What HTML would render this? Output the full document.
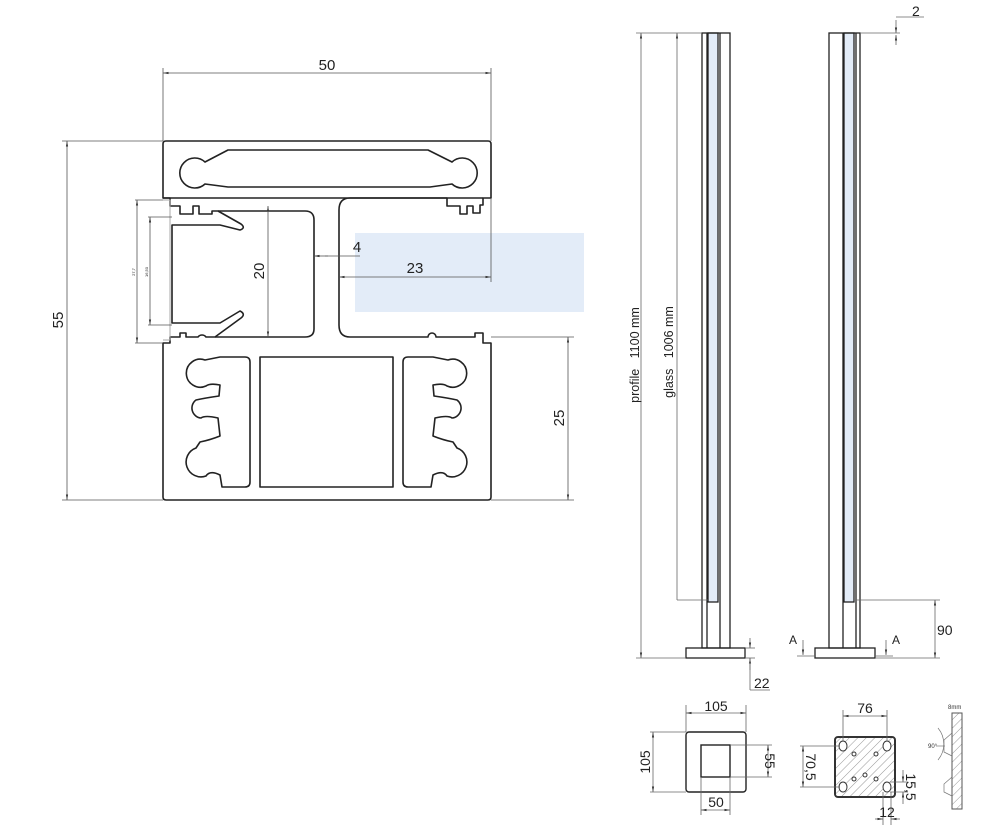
<!DOCTYPE html>
<html><head><meta charset="utf-8"><style>
html,body{margin:0;padding:0;background:#fff;}
svg{display:block;font-family:"Liberation Sans",sans-serif;}
</style></head><body>
<svg width="986" height="835" viewBox="0 0 986 835" xmlns="http://www.w3.org/2000/svg">
<defs>
<marker id="a" viewBox="0 0 10 10" refX="10" refY="5" markerWidth="7" markerHeight="7" orient="auto-start-reverse"><path d="M0,3 L10,5 L0,7 z" fill="#333"/></marker>
<pattern id="h" width="6" height="6" patternUnits="userSpaceOnUse" patternTransform="rotate(45)"><line x1="0" y1="0" x2="0" y2="6" stroke="#999" stroke-width="1"/></pattern>
</defs>
<rect width="986" height="835" fill="#fff"/>
<rect x="355" y="233" width="229" height="79" fill="#e3ecf8"/>

<g fill="none" stroke="#222" stroke-width="1.6" stroke-linejoin="round">
<path d="M166,141 H488 Q491,141 491,144 V198 H483 V205 H480 V213 H473 V206 H467 V214 H460 V206 H447 V198 H350 Q339,198 339,210 V325 Q339,337 350,337 H428 A4,4 0 0 1 436,337 H475 V333 H483 V343 H491 V497 Q491,500 488,500 H166 Q163,500 163,497 V343 H170 V337 H180 V333 H186 V337 H198 A5,5 0 0 1 206,337 H215 L241,318 Q246,314 240,311 L220,323 H172 V225 H220 L240,230 Q246,228 241,224 L218,211 H212 V214 H199 V206 H193 V214 H180 V206 H170 V198 H163 V144 Q163,141 166,141 Z"/>
<path d="M218,211 H305 Q314,211 314,220 V329 Q314,337 305,337 H215"/>
<line x1="163" y1="198" x2="483" y2="198"/>
<path d="M205,162 L228,150 H428 L452,162 A15,15 0 1 1 452,184 L430,187 H228 L205,184 A15,15 0 1 1 205,162 Z"/>
<rect x="260" y="357" width="133" height="130"/>
<path d="M220,357 H245 Q250,357 250,362 V482 Q250,487 245,487 H222 L220,475 Q210,470 206,476 A14,14 0 1 1 196,448 L200,442 Q210,440 220,436 L218,418 Q205,415 201,418 A10,10 0 0 1 196,400 Q205,398 219,396 L220,385 Q210,383 206,386 A14,14 0 1 1 205,360 Z"/>
<path d="M433,357 H408 Q403,357 403,362 V482 Q403,487 408,487 H431 L433,475 Q443,470 447,476 A14,14 0 1 0 457,448 L453,442 Q443,440 433,436 L435,418 Q448,415 452,418 A10,10 0 0 0 457,400 Q448,398 434,396 L433,385 Q443,383 447,386 A14,14 0 1 0 448,360 Z"/>
</g>
<path d="M163,200 H170 V340 H163" fill="none" stroke="#aaa" stroke-width="1"/>

<g stroke="#555" stroke-width="0.8" fill="none">
<line x1="163" y1="68" x2="163" y2="141"/><line x1="491" y1="68" x2="491" y2="141"/>
<line x1="163" y1="73" x2="491" y2="73" marker-start="url(#a)" marker-end="url(#a)"/>
<line x1="62" y1="141" x2="163" y2="141"/><line x1="62" y1="500" x2="163" y2="500"/>
<line x1="67" y1="141" x2="67" y2="500" marker-start="url(#a)" marker-end="url(#a)"/>
<line x1="491" y1="337" x2="574" y2="337"/><line x1="491" y1="500" x2="574" y2="500"/>
<line x1="568" y1="337" x2="568" y2="500" marker-start="url(#a)" marker-end="url(#a)"/>
<line x1="268" y1="206" x2="268" y2="337" marker-start="url(#a)" marker-end="url(#a)"/>
<line x1="314" y1="256" x2="328" y2="256" marker-start="url(#a)"/>
<line x1="325" y1="256" x2="360" y2="256"/>
<line x1="339" y1="277" x2="491" y2="277" marker-start="url(#a)" marker-end="url(#a)"/>
<line x1="491" y1="198" x2="491" y2="282"/>
<line x1="137" y1="200" x2="137" y2="343" marker-start="url(#a)" marker-end="url(#a)"/>
<line x1="150" y1="217" x2="150" y2="325" marker-start="url(#a)" marker-end="url(#a)"/>
<line x1="135" y1="200" x2="163" y2="200"/><line x1="135" y1="343" x2="163" y2="343"/>
<line x1="148" y1="217" x2="172" y2="217"/><line x1="148" y1="325" x2="172" y2="325"/>
</g>
<g fill="#222" font-size="15">
<text x="327" y="70" text-anchor="middle">50</text>
<text x="415" y="273" text-anchor="middle">23</text>
<text x="357" y="252" text-anchor="middle">4</text>
<text transform="translate(63,320) rotate(-90)" text-anchor="middle">55</text>
<text transform="translate(564,418) rotate(-90)" text-anchor="middle">25</text>
<text transform="translate(264,271) rotate(-90)" text-anchor="middle">20</text>
<text transform="translate(135,272) rotate(-90)" text-anchor="middle" font-size="4">27,7</text>
<text transform="translate(148,272) rotate(-90)" text-anchor="middle" font-size="4">16,50</text>
</g>

<rect x="708" y="33" width="10" height="569" fill="#e3ecf8"/>
<rect x="844" y="33" width="10" height="569" fill="#e3ecf8"/>
<g fill="none" stroke="#222" stroke-width="1.3">
<rect x="702" y="33" width="28" height="615"/>
<line x1="707" y1="33" x2="707" y2="648"/><line x1="720" y1="33" x2="720" y2="648"/>
<rect x="708" y="33" width="10" height="569"/>
<rect x="686" y="648" width="59" height="10"/>
<rect x="829" y="33" width="31" height="615"/>
<line x1="843" y1="33" x2="843" y2="648"/><line x1="856" y1="33" x2="856" y2="648"/>
<rect x="844" y="33" width="10" height="569"/>
<rect x="815" y="648" width="60" height="10"/>
</g>
<g stroke="#666" stroke-width="0.8" fill="none">
<line x1="636" y1="33" x2="702" y2="33"/>
<line x1="641" y1="33" x2="641" y2="658" marker-start="url(#a)" marker-end="url(#a)"/>
<line x1="636" y1="658" x2="686" y2="658"/>
<line x1="677" y1="33" x2="677" y2="600" marker-start="url(#a)"/>
<line x1="677" y1="600" x2="708" y2="600"/>
<line x1="856" y1="600" x2="940" y2="600"/><line x1="875" y1="658" x2="940" y2="658"/>
<line x1="935" y1="600" x2="935" y2="658" marker-start="url(#a)" marker-end="url(#a)"/>
<line x1="860" y1="33" x2="900" y2="33"/>
<line x1="896" y1="20" x2="896" y2="33" marker-end="url(#a)"/>
<line x1="896" y1="45" x2="896" y2="35" marker-end="url(#a)"/>
<line x1="896" y1="17" x2="924" y2="17"/>
<line x1="750" y1="638" x2="750" y2="648" marker-end="url(#a)"/>
<line x1="750" y1="670" x2="750" y2="658" marker-end="url(#a)"/>
<line x1="745" y1="648" x2="755" y2="648"/><line x1="745" y1="658" x2="755" y2="658"/>
<line x1="750" y1="658" x2="750" y2="690"/><line x1="750" y1="690" x2="770" y2="690"/>
<line x1="803" y1="640" x2="803" y2="655" marker-end="url(#a)"/>
<line x1="797" y1="656" x2="815" y2="656"/>
<line x1="886" y1="640" x2="886" y2="655" marker-end="url(#a)"/>
<line x1="875" y1="656" x2="893" y2="656"/>
</g>
<g fill="#222" font-size="14">
<text transform="translate(639,355) rotate(-90)" text-anchor="middle" font-size="12.5">profile&#160;&#160;&#160;1100 mm</text>
<text transform="translate(673,352) rotate(-90)" text-anchor="middle" font-size="12.5">glass&#160;&#160;&#160;1006 mm</text>
<text x="912" y="16">2</text>
<text x="937" y="635">90</text>
<text x="754" y="688">22</text>
<text x="789" y="644" font-size="12">A</text>
<text x="892" y="644" font-size="12">A</text>
</g>

<g fill="none" stroke="#222" stroke-width="1.4">
<rect x="686" y="732" width="60" height="60" rx="3"/>
<rect x="701" y="745" width="29" height="32"/>
</g>
<g stroke="#666" stroke-width="0.8" fill="none">
<line x1="686" y1="705" x2="686" y2="732"/><line x1="746" y1="705" x2="746" y2="732"/>
<line x1="686" y1="713" x2="746" y2="713" marker-start="url(#a)" marker-end="url(#a)"/>
<line x1="650" y1="732" x2="686" y2="732"/><line x1="650" y1="792" x2="686" y2="792"/>
<line x1="653" y1="732" x2="653" y2="792" marker-start="url(#a)" marker-end="url(#a)"/>
<line x1="730" y1="745" x2="772" y2="745"/><line x1="730" y1="777" x2="772" y2="777"/>
<line x1="768" y1="745" x2="768" y2="777" marker-start="url(#a)" marker-end="url(#a)"/>
<line x1="701" y1="777" x2="701" y2="815"/><line x1="730" y1="777" x2="730" y2="815"/>
<line x1="701" y1="810" x2="730" y2="810" marker-start="url(#a)" marker-end="url(#a)"/>
</g>
<g fill="#222" font-size="14">
<text x="716" y="711" text-anchor="middle">105</text>
<text transform="translate(650,762) rotate(-90)" text-anchor="middle">105</text>
<text transform="translate(765,761) rotate(90)" text-anchor="middle">55</text>
<text x="716" y="807" text-anchor="middle">50</text>
</g>

<rect x="835" y="737" width="60" height="60" rx="3" fill="url(#h)" stroke="#333" stroke-width="2"/>
<g fill="#fff" stroke="#333" stroke-width="1">
<ellipse cx="843" cy="746" rx="4" ry="5"/><ellipse cx="887" cy="746" rx="4" ry="5"/>
<ellipse cx="843" cy="787" rx="4" ry="5"/><ellipse cx="887" cy="787" rx="4" ry="5"/>
<circle cx="854" cy="754" r="2"/><circle cx="876" cy="754" r="2"/>
<circle cx="854" cy="779" r="2"/><circle cx="865" cy="775" r="2"/><circle cx="876" cy="779" r="2"/>
</g>
<g stroke="#666" stroke-width="0.8" fill="none">
<line x1="843" y1="710" x2="843" y2="741"/><line x1="887" y1="710" x2="887" y2="741"/>
<line x1="843" y1="716" x2="887" y2="716" marker-start="url(#a)" marker-end="url(#a)"/>
<line x1="800" y1="746" x2="840" y2="746"/><line x1="800" y1="787" x2="840" y2="787"/>
<line x1="803" y1="746" x2="803" y2="787" marker-start="url(#a)" marker-end="url(#a)"/>
<line x1="890" y1="782" x2="908" y2="782"/><line x1="890" y1="792" x2="908" y2="792"/>
<line x1="903" y1="770" x2="903" y2="782" marker-end="url(#a)"/>
<line x1="903" y1="804" x2="903" y2="792" marker-end="url(#a)"/>
<line x1="883" y1="792" x2="883" y2="825"/><line x1="891" y1="792" x2="891" y2="825"/>
<line x1="875" y1="819" x2="883" y2="819" marker-end="url(#a)"/>
<line x1="900" y1="819" x2="891" y2="819" marker-end="url(#a)"/>
</g>
<g fill="#222" font-size="14">
<text x="865" y="713" text-anchor="middle">76</text>
<text transform="translate(806,767) rotate(90)" text-anchor="middle">70,5</text>
<text transform="translate(906,787) rotate(90)" text-anchor="middle">15,5</text>
<text x="887" y="817" text-anchor="middle">12</text>
</g>

<rect x="952" y="713" width="10" height="96" fill="url(#h)" stroke="#555" stroke-width="1"/>
<g stroke="#777" stroke-width="0.7" fill="none">
<path d="M952,733 L944,740 V752 L952,756"/>
<path d="M952,777 L944,784 V792 L952,796"/>
<path d="M938,728 A25,25 0 0 1 938,760"/>
<line x1="945" y1="746" x2="936" y2="746"/>
</g>
<g fill="#333" font-size="6">
<text x="948" y="709">8mm</text>
<text x="928" y="748">90°</text>
</g>
</svg>
</body></html>
